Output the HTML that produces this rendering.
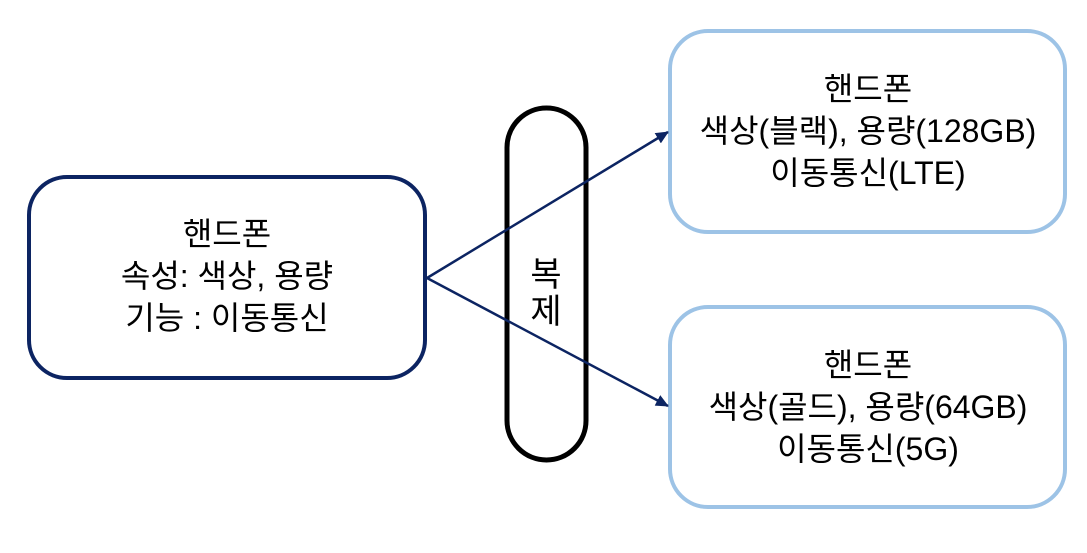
<!DOCTYPE html>
<html><head><meta charset="utf-8"><style>
body{margin:0;width:1087px;height:548px;background:#fff;overflow:hidden}
text{font-family:"Liberation Sans","Noto Sans CJK KR",sans-serif;font-size:32px;fill:#000;text-anchor:middle}
</style></head><body>
<svg width="1087" height="548" viewBox="0 0 1087 548">
<defs><marker id="a" markerWidth="13" markerHeight="12" refX="12" refY="6" orient="auto" markerUnits="userSpaceOnUse"><path d="M0,0 L13,6 L0,12 Z" fill="#0c2462"/></marker></defs>
<rect x="29" y="177" width="396" height="201" rx="38" fill="#fff" stroke="#0c2462" stroke-width="4"/>
<rect x="670" y="31" width="395" height="201" rx="38" fill="#fff" stroke="#9dc3e6" stroke-width="4"/>
<rect x="670" y="307" width="395" height="200" rx="38" fill="#fff" stroke="#9dc3e6" stroke-width="4"/>
<rect x="507" y="108" width="79" height="352" rx="39.5" fill="none" stroke="#000" stroke-width="5"/>
<line x1="427" y1="278" x2="668" y2="132" stroke="#0c2462" stroke-width="2.5" marker-end="url(#a)"/>
<line x1="427" y1="278" x2="668" y2="406" stroke="#0c2462" stroke-width="2.5" marker-end="url(#a)"/>
<text x="227" y="245">핸드폰</text>
<text x="227" y="287">속성: 색상, 용량</text>
<text x="227" y="329">기능 : 이동통신</text>
<text x="546" y="286" style="font-size:34px">복</text>
<text x="546" y="323" style="font-size:34px">제</text>
<text x="868" y="100">핸드폰</text>
<text x="868" y="142">색상(블랙), 용량(128GB)</text>
<text x="868" y="184">이동통신(LTE)</text>
<text x="868" y="376">핸드폰</text>
<text x="868" y="418">색상(골드), 용량(64GB)</text>
<text x="868" y="460">이동통신(5G)</text>
</svg>
</body></html>
